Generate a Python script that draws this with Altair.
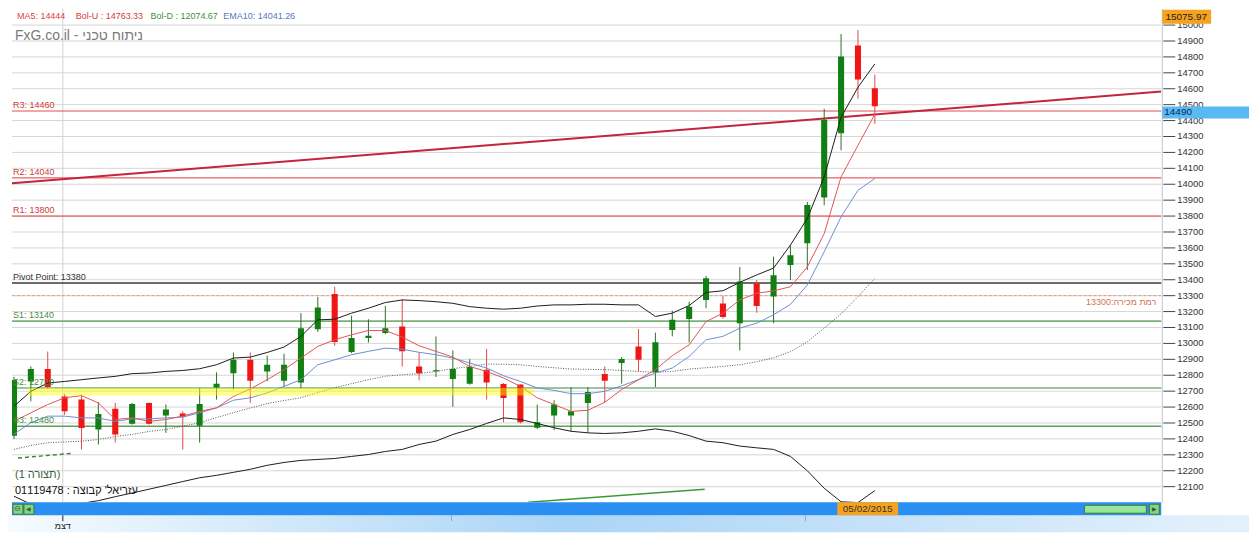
import altair as alt
import pandas as pd

# ---------------- data ----------------
idx = list(range(52))
opens = [12420, 12761, 12839, 12667, 12647, 12459, 12589, 12496, 12626, 12547,
         12559, 12483, 12723, 12813, 12897, 12824, 12765, 12755, 13089, 13310,
         12946, 13034, 13065, 13106, 12855, 12825, 12776, 12747, 12835, 12745,
         12742, 12470, 12547, 12547, 12626, 12808, 12877, 12981, 12818, 13085,
         13154, 13273, 13250, 13127, 13377, 13294, 13492, 13629, 13917, 14321,
         14871, 14603]
highs = [12790, 12856, 12949, 12684, 12678, 12630, 12626, 12626, 12630, 12616,
         12573, 12720, 12818, 12943, 12943, 12923, 12935, 13190, 13292, 13356,
         13175, 13152, 13236, 13278, 12943, 13044, 12956, 12901, 12965, 12751,
         12742, 12616, 12643, 12726, 12726, 12855, 12914, 13090, 13068, 13206,
         13262, 13424, 13298, 13480, 13398, 13545, 13617, 13889, 14474, 14944,
         14969, 14689]
lows = [12400, 12636, 12715, 12551, 12333, 12365, 12377, 12490, 12490, 12438,
        12333, 12377, 12647, 12710, 12626, 12762, 12730, 12720, 13072, 12985,
        12939, 13006, 13058, 12855, 12768, 12789, 12602, 12741, 12647, 12505,
        12497, 12463, 12455, 12448, 12438, 12630, 12747, 12824, 12726, 13044,
        13006, 13221, 13155, 12956, 13193, 13127, 13398, 13461, 13868, 14213,
        14537, 14380]
closes = [12770, 12839, 12726, 12574, 12469, 12557, 12427, 12620, 12496, 12585,
          12539, 12619, 12746, 12897, 12765, 12866, 12866, 13096, 13226, 13009,
          13034, 13048, 13096, 12950, 12813, 12832, 12839, 12851, 12755, 12657,
          12505, 12505, 12616, 12573, 12695, 12765, 12902, 12897, 13008, 13148,
          13231, 13409, 13166, 13389, 13235, 13429, 13554, 13869, 14405, 14802,
          14658, 14490]
ma5 = [12510, 12564, 12616, 12658, 12672, 12626, 12522, 12532, 12510, 12522,
       12543, 12573, 12595, 12667, 12714, 12772, 12835, 12908, 12981, 13023,
       13054, 13081, 13081, 13040, 12985, 12950, 12914, 12855, 12824, 12783,
       12730, 12658, 12616, 12573, 12580, 12630, 12710, 12772, 12835, 12923,
       12991, 13137, 13190, 13273, 13315, 13330, 13356, 13480, 13690, 14046,
       14244, 14440]
ema10 = [12429, 12502, 12543, 12543, 12532, 12532, 12510, 12526, 12526, 12532,
         12537, 12564, 12595, 12643, 12658, 12689, 12730, 12772, 12866, 12897,
         12929, 12950, 12970, 12964, 12944, 12929, 12908, 12877, 12845, 12797,
         12761, 12720, 12705, 12684, 12684, 12699, 12734, 12772, 12814, 12845,
         12918, 13023, 13044, 13096, 13127, 13180, 13245, 13367, 13576, 13795,
         13962, 14036]
bol_up = [12605, 12699, 12751, 12761, 12772, 12783, 12793, 12810, 12814, 12824,
          12830, 12841, 12866, 12908, 12914, 12943, 12977, 13044, 13148, 13152,
          13190, 13221, 13257, 13273, 13269, 13262, 13252, 13231, 13221, 13215,
          13221, 13235, 13242, 13242, 13246, 13246, 13242, 13242, 13169, 13190,
          13238, 13320, 13331, 13384, 13430, 13473, 13618, 13785, 14046, 14421,
          14609, 14756]
bol_dn = [12040, 11990, 11975, 11980, 11995, 12012, 12037, 12060, 12084, 12108,
          12132, 12156, 12171, 12190, 12209, 12234, 12252, 12265, 12271, 12277,
          12290, 12302, 12321, 12334, 12365, 12386, 12428, 12459, 12497, 12532,
          12522, 12497, 12470, 12448, 12438, 12434, 12438, 12448, 12463, 12448,
          12421, 12386, 12376, 12355, 12344, 12334, 12290, 12200, 12090, 12005,
          12000, 12075]
bol_mid = [12334, 12359, 12376, 12381, 12386, 12396, 12415, 12428, 12447, 12459,
           12480, 12501, 12534, 12565, 12594, 12622, 12641, 12659, 12691, 12722,
           12747, 12772, 12794, 12803, 12810, 12824, 12841, 12855, 12870, 12869,
           12866, 12855, 12847, 12839, 12837, 12835, 12830, 12824, 12818, 12824,
           12839, 12847, 12855, 12866, 12885, 12910, 12948, 13010, 13096, 13186,
           13294, 13409]

level_labels = ["R3: 14460", "R2: 14040", "R1: 13800", "Pivot Point: 13380",
                "S1: 13140", "S2: 12720", "S3: 12480"]
level_values = [14460, 14040, 13800, 13380, 13140, 12720, 12480]
level_colors = ["#e05050", "#e03a3a", "#e03a3a", "#3a3a3a", "#78b078", "#78b078", "#5f9f5f"]
level_text_colors = ["#d03a3a", "#d03a3a", "#d03a3a", "#333333", "#3f8f3f", "#3f8f3f", "#3f8f3f"]
level_widths = [1, 1, 1, 1.5, 2, 1.5, 1.5]
sell_level = [13300]
sell_label = ["רמת מכירה:13300"]

trend_i = [-0.118, 67.97]
trend_v = [14006, 14582]
green_line_i = [30.47, 40.92]
green_line_v = [12002, 12084]
dash_green_i = [0.24, 3.42]
dash_green_v = [12280, 12309]
band_i = [0.83, 30.76]
band_v = [12672, 12720]
month_tick_i = [2.893]

legend_texts = ["MA5: 14444", "Bol-U : 14763.33", "Bol-D : 12074.67", "EMA10: 14041.26"]
legend_colors = ["#e04646", "#d04040", "#3f8f3f", "#5a78c0"]
axis_values = list(range(12100, 15001, 100))
axis_labels = [str(v) for v in axis_values]

# ---------------- layout ----------------
W, H = 1153, 495
xs = alt.Scale(domain=[-0.118, 67.97], nice=False, zero=False)
ys = alt.Scale(domain=[12002, 15102], nice=False, zero=False)
FONT = "Liberation Sans"
GREEN, RED = "#117f11", "#f01616"
GWICK, RWICK = "#2e6e2e", "#e04a4a"


def X(f):
    return alt.X(f, scale=xs, axis=None)


def Y(f):
    return alt.Y(f, scale=ys, axis=None)


def one():
    return pd.DataFrame({"k": [0]})


def ptext(txt, x, y, size, color, align="left", baseline="middle", font=FONT):
    return alt.Chart(pd.DataFrame({"t": [txt]})).mark_text(
        align=align, baseline=baseline, fontSize=size, color=color, font=font
    ).encode(x=alt.value(x), y=alt.value(y), text="t:N")


def prect(x, x2, y, y2, fill, stroke=None, sw=0):
    kw = dict(fill=fill)
    if stroke:
        kw.update(stroke=stroke, strokeWidth=sw)
    return alt.Chart(one()).mark_rect(**kw).encode(
        x=alt.value(x), x2=alt.value(x2), y=alt.value(y), y2=alt.value(y2))


candles = pd.DataFrame({"i": idx, "o": opens, "h": highs, "l": lows, "c": closes})
ind = pd.DataFrame({"i": idx, "ma5": ma5, "ema10": ema10, "bu": bol_up,
                    "bd": bol_dn, "bm": bol_mid})
levels = pd.DataFrame({"v": level_values, "col": level_colors, "w": level_widths,
                       "lab": level_labels, "tcol": level_text_colors})
ticks = pd.DataFrame({"v": axis_values, "t": axis_labels})

layers = []

# price grid (every 100) + right axis drawn through the y scale
layers.append(alt.Chart(ticks).mark_rule(color="#d6d6d6", strokeWidth=1).encode(
    y=Y("v:Q"), x=alt.value(0), x2=alt.value(W)))
layers.append(alt.Chart(one()).mark_rule(color="#b9c6d3", strokeWidth=1).encode(
    x=alt.value(W + 1), y=alt.value(0), y2=alt.value(H)))
layers.append(alt.Chart(ticks).mark_rule(color="#444444", strokeWidth=1).encode(
    y=Y("v:Q"), x=alt.value(W + 2), x2=alt.value(W + 14)))
layers.append(alt.Chart(ticks).mark_text(align="left", baseline="middle", fontSize=9.5,
                                         font=FONT, color="#333333").encode(
    y=Y("v:Q"), x=alt.value(W + 16), text="t:N"))

# vertical month grid line
layers.append(alt.Chart(pd.DataFrame({"i": month_tick_i})).mark_rule(color="#d2d2d2").encode(
    x=X("i:Q"), y=alt.value(0), y2=alt.value(H)))

# level lines
layers.append(alt.Chart(levels).mark_rule().encode(
    y=Y("v:Q"), x=alt.value(0), x2=alt.value(W),
    color=alt.Color("col:N", scale=None),
    strokeWidth=alt.StrokeWidth("w:Q", scale=None)))

# sell level dashed
layers.append(alt.Chart(pd.DataFrame({"v": sell_level})).mark_rule(
    color="#e29a80", strokeDash=[3, 2], strokeWidth=1).encode(
    y=Y("v:Q"), x=alt.value(0), x2=alt.value(W)))

# trend line
layers.append(alt.Chart(pd.DataFrame({"i": trend_i, "v": trend_v})).mark_line(
    color="#c4243c", strokeWidth=2, clip=True).encode(x=X("i:Q"), y=Y("v:Q")))

# green lines near the bottom
layers.append(alt.Chart(pd.DataFrame({"i": green_line_i, "v": green_line_v})).mark_line(
    color="#3a9a3a", strokeWidth=1.5, clip=True).encode(x=X("i:Q"), y=Y("v:Q")))
layers.append(alt.Chart(pd.DataFrame({"i": dash_green_i, "v": dash_green_v})).mark_line(
    color="#3a8a3a", strokeWidth=1.5, strokeDash=[4, 3], clip=True).encode(x=X("i:Q"), y=Y("v:Q")))

# candles
layers.append(alt.Chart(candles).mark_rule(strokeWidth=1, clip=True).encode(
    x=X("i:Q"), y=Y("l:Q"), y2="h:Q",
    color=alt.condition("datum.c >= datum.o", alt.value(GWICK), alt.value(RWICK))))
layers.append(alt.Chart(candles).transform_calculate(
    xa="datum.i - 0.18", xb="datum.i + 0.18").mark_rect(clip=True).encode(
    x=X("xa:Q"), x2="xb:Q", y=Y("o:Q"), y2="c:Q",
    color=alt.condition("datum.c >= datum.o", alt.value(GREEN), alt.value(RED))))

# indicators
for f, col, w, dash in [("bm", "#555555", 1, [1, 1.5]), ("bu", "#1e1e1e", 1, None),
                        ("bd", "#1e1e1e", 1, None), ("ema10", "#6e8ed2", 1, None),
                        ("ma5", "#e25555", 1, None)]:
    kw = dict(color=col, strokeWidth=w, clip=True)
    if dash:
        kw["strokeDash"] = dash
    layers.append(alt.Chart(ind).mark_line(**kw).encode(x=X("i:Q"), y=Y(f + ":Q")))

# yellow band
layers.append(alt.Chart(pd.DataFrame({"a": [band_i[0]], "b": [band_i[1]],
                                      "lo": [band_v[0]], "hi": [band_v[1]]})).mark_rect(
    fill="#ffff00", opacity=0.45).encode(x=X("a:Q"), x2="b:Q", y=Y("lo:Q"), y2="hi:Q"))

# level labels
layers.append(alt.Chart(levels).mark_text(align="left", baseline="bottom", dy=-1,
                                          fontSize=9, font=FONT).encode(
    x=alt.value(1), y=Y("v:Q"), text="lab:N", color=alt.Color("tcol:N", scale=None)))
layers.append(alt.Chart(pd.DataFrame({"v": sell_level, "t": sell_label})).mark_text(
    align="right", baseline="top", dy=2, fontSize=9, font=FONT, color="#d0724e").encode(
    x=alt.value(1148), y=Y("v:Q"), text="t:N"))

# legend row and title
for t, c, px in zip(legend_texts, legend_colors, [5, 64, 139, 212]):
    layers.append(ptext(t, px, 7, 9, c))
layers.append(ptext("FxG.co.il - ניתוח טכני", 3, 27, 14, "#7a7a7a"))
layers.append(ptext("(תצורה 1)", 3, 468, 11, "#3a5e3a"))
layers.append(ptext("עזריאל' קבוצה : 01119478", 3, 484, 11, "#111111"))

# right-side price boxes
layers.append(prect(1154, 1203, 1, 15, "#f7a21c"))
layers.append(ptext("15075.97", 1178, 8.5, 10, "#222222", align="center"))
layers.append(prect(1154, 1241, 98, 110, "#5ab8f2"))
layers.append(ptext("14490", 1156, 104, 10, "#0a2a55"))

# bottom: gradient strip, scrollbar, date label
layers.append(alt.Chart(one()).mark_rect(fill=alt.LinearGradient(
    gradient="linear", x1=0, x2=1, y1=0, y2=0,
    stops=[alt.GradientStop(offset=0, color="#f6fbff"),
           alt.GradientStop(offset=0.45, color="#abd5f6"),
           alt.GradientStop(offset=1, color="#e4f1fc")])).encode(
    x=alt.value(-4), x2=alt.value(1241), y=alt.value(508), y2=alt.value(525)))
layers.append(prect(0, W, 495, 508, "#2a8ff2"))
layers.append(prect(1, 11, 497, 507, "#86d486", "#3c7a3c", 1))
layers.append(prect(12, 22, 497, 507, "#86d486", "#3c7a3c", 1))
layers.append(ptext("⊖", 6, 502, 8, "#2d5f2d", align="center"))
layers.append(ptext("◀", 17, 502, 6, "#2d5f2d", align="center"))
layers.append(prect(1076, 1138, 498, 506, "#98e698", "#3c7a3c", 1))
layers.append(prect(1141, 1151, 497, 507, "#86d486", "#3c7a3c", 1))
layers.append(ptext("▶", 1146, 502, 6, "#2d5f2d", align="center"))
layers.append(prect(828, 889, 495, 508, "#f7a21c"))
layers.append(ptext("05/02/2015", 858.5, 502, 10, "#333333", align="center"))
for tx, col in [(51, "#222222"), (441, "#9aa8b8"), (796, "#9aa8b8")]:
    layers.append(alt.Chart(one()).mark_rule(color=col, strokeWidth=1).encode(
        x=alt.value(tx), y=alt.value(508), y2=alt.value(514)))
layers.append(ptext("דצמ", 51, 519, 9, "#222222", align="center"))

chart = alt.layer(*layers).properties(
    width=W, height=H,
    padding={"left": 4, "top": 0, "right": 88, "bottom": 30},
    autosize=alt.AutoSizeParams(type="none"),
    background="white",
).configure_view(stroke=None)

chart.save("out.html", embed_options={"renderer": "svg", "actions": False})
